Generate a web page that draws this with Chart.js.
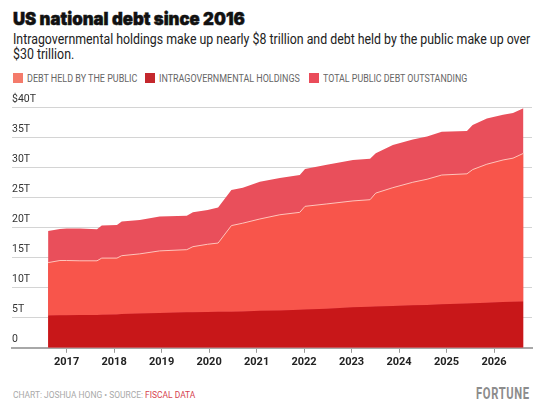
<!DOCTYPE html>
<html>
<head>
<meta charset="utf-8">
<script src="https://cdn.jsdelivr.net/npm/chart.js@4.4.1/dist/chart.umd.min.js"></script>
<style>
  html, body { margin: 0; padding: 0; background: #fff; }
  body { width: 546px; height: 413px; position: relative; overflow: hidden; font-family: Roboto, sans-serif; }
  .fit { position: absolute; white-space: nowrap; transform-origin: left top; display: inline-block; }
  .title { left: 13px; top: 8px; font-family: Inter, Roboto, sans-serif; font-weight: 900; font-size: 17.5px; line-height: 22px; color: #111; -webkit-text-stroke: 0.5px #111; }
  .sub { left: 13px; font-size: 15px; line-height: 15px; color: #222; }
  .lgtext { top: 72px; font-size: 11.5px; line-height: 13px; color: #666; }
  .sw { position: absolute; top: 73px; width: 10px; height: 10px; }
  .foot { left: 13px; top: 389px; font-size: 9.5px; line-height: 12px; color: #a9a9a9; }
  .foot em { font-style: normal; color: #d6424e; }
  .brand { left: 476px; top: 382px; font-size: 17px; line-height: 22px; font-weight: bold; color: #8c8c8c; letter-spacing: 1px; }
  #wrap { position: absolute; left: 0; top: 88px; width: 546px; height: 292px; }
</style>
</head>
<body>
<div class="fit title" id="title">US national debt since 2016</div>
<div class="fit sub" id="sub1" style="top:32px">Intragovernmental holdings make up nearly $8 trillion and debt held by the public make up over</div>
<div class="fit sub" id="sub2" style="top:47px">$30 trillion.</div>
<div id="legend"></div>
<div class="fit foot" id="foot">CHART: JOSHUA HONG • SOURCE: <em>FISCAL DATA</em></div>
<div class="fit brand" id="brand">FORTUNE</div>
<div id="wrap"><canvas id="chart"></canvas></div>
<script>
// dates as decimal years, values in trillions of dollars
const dates = [2016.61, 2016.86, 2017.0, 2017.28, 2017.64, 2017.74, 2018.06, 2018.16, 2018.54, 2018.96,
  2019.53, 2019.66, 2019.97, 2020.19, 2020.47, 2020.71, 2021.07, 2021.49, 2021.91, 2022.02,
  2022.48, 2023.03, 2023.39, 2023.51, 2023.87, 2024.29, 2024.59, 2024.90, 2025.43, 2025.55,
  2025.85, 2026.19, 2026.40, 2026.62];
const intragovernmental = [5.35, 5.4, 5.4, 5.45, 5.45, 5.5, 5.55, 5.6, 5.7, 5.8,
  5.9, 5.9, 5.95, 6.0, 6.0, 6.05, 6.15, 6.2, 6.3, 6.35,
  6.5, 6.75, 6.8, 6.85, 6.95, 7.05, 7.1, 7.25, 7.35, 7.4,
  7.5, 7.6, 7.65, 7.7];
const heldByPublic = [8.8, 9.1, 9.1, 9.0, 9.0, 9.4, 9.35, 9.7, 9.9, 10.3,
  10.4, 10.9, 11.25, 11.4, 14.3, 14.65, 15.25, 15.9, 16.2, 17.15,
  17.4, 17.65, 17.8, 18.85, 19.65, 20.45, 20.9, 21.45, 21.55, 22.2,
  23.0, 23.6, 23.85, 24.6];
const totalOutstanding = [19.4, 19.75, 19.8, 19.8, 19.7, 20.3, 20.4, 21.0, 21.25, 21.8,
  21.95, 22.5, 22.9, 23.3, 26.2, 26.6, 27.6, 28.2, 28.7, 29.7,
  30.4, 31.2, 31.4, 32.3, 33.7, 34.6, 35.1, 35.9, 36.0, 37.0,
  38.1, 38.7, 39.0, 39.8];
const tickYears = [2017, 2018, 2019, 2020, 2021, 2022, 2023, 2024, 2025, 2026];
const legendNames = ['DEBT HELD BY THE PUBLIC', 'INTRAGOVERNMENTAL HOLDINGS', 'TOTAL PUBLIC DEBT OUTSTANDING'];
const legendColors = ['#f47b6b', '#c4282d', '#ea4c5a'];

const pts = vals => dates.map((d, i) => ({ x: d, y: vals[i] }));

// squeeze text to the width it has in the picture
function fitWidth(el, w) {
  const s = w / el.scrollWidth;
  el.style.transform = `scaleX(${s})`;
  return s;
}

// legend: swatch x, text x, text width
const legendPos = [[13, 27, 110], [145, 159, 141], [309, 323, 144]];
const lg = document.getElementById('legend');
legendNames.forEach((name, i) => {
  const sw = document.createElement('div');
  sw.className = 'sw';
  sw.style.left = legendPos[i][0] + 'px';
  sw.style.background = legendColors[i];
  lg.appendChild(sw);
  const t = document.createElement('div');
  t.className = 'fit lgtext';
  t.style.left = legendPos[i][1] + 'px';
  t.textContent = name;
  lg.appendChild(t);
  fitWidth(t, legendPos[i][2]);
});

fitWidth(document.getElementById('title'), 232);
const subScale = fitWidth(document.getElementById('sub1'), 517);
document.getElementById('sub2').style.transform = `scaleX(${subScale})`;
fitWidth(document.getElementById('foot'), 182);
fitWidth(document.getElementById('brand'), 54);

const data = {
  datasets: [
    { label: 'Intragovernmental holdings', data: pts(intragovernmental), stack: 'debt',
      backgroundColor: '#c81719', borderWidth: 0, fill: 'origin' },
    { label: 'Debt held by the public', data: pts(heldByPublic), stack: 'debt',
      backgroundColor: '#f8554b', borderColor: '#ffc4ba', borderWidth: 1, fill: '-1' },
    { label: 'Total public debt outstanding', data: pts(totalOutstanding), stack: 'total',
      backgroundColor: '#e94f5b', borderWidth: 0, fill: 'origin' }
  ]
};

const config = {
  type: 'line',
  data: data,
  options: {
    responsive: true,
    maintainAspectRatio: false,
    animation: false,
    layout: { padding: { left: 12, right: 14, top: 19, bottom: 8 } },
    elements: { point: { radius: 0 }, line: { tension: 0 } },
    plugins: { legend: { display: false }, tooltip: { enabled: false } },
    scales: {
      x: {
        type: 'linear',
        min: 2015.85,
        max: 2026.8,
        afterBuildTicks: axis => { axis.ticks = tickYears.map(v => ({ value: v })); },
        grid: { drawOnChartArea: false, drawTicks: true, tickLength: 5, color: '#999' },
        border: { display: true, color: '#a8a8a8', width: 2 },
        ticks: {
          padding: 3,
          color: '#222',
          font: { family: 'Roboto, sans-serif', size: 11, weight: 'bold' },
          callback: v => String(v)
        }
      },
      y: {
        stacked: true,
        min: 0,
        max: 40,
        grid: { drawTicks: false, color: '#d4d4d4', lineWidth: 1 },
        border: { display: false },
        ticks: {
          stepSize: 5,
          mirror: true,
          padding: 0,
          labelOffset: -8,
          color: '#333',
          font: { family: 'Roboto, sans-serif', size: 10.5 },
          callback: v => v === 0 ? '0' : (v === 40 ? '$40T' : v + 'T')
        }
      }
    }
  }
};

new Chart(document.getElementById('chart'), config);
</script>
</body>
</html>
